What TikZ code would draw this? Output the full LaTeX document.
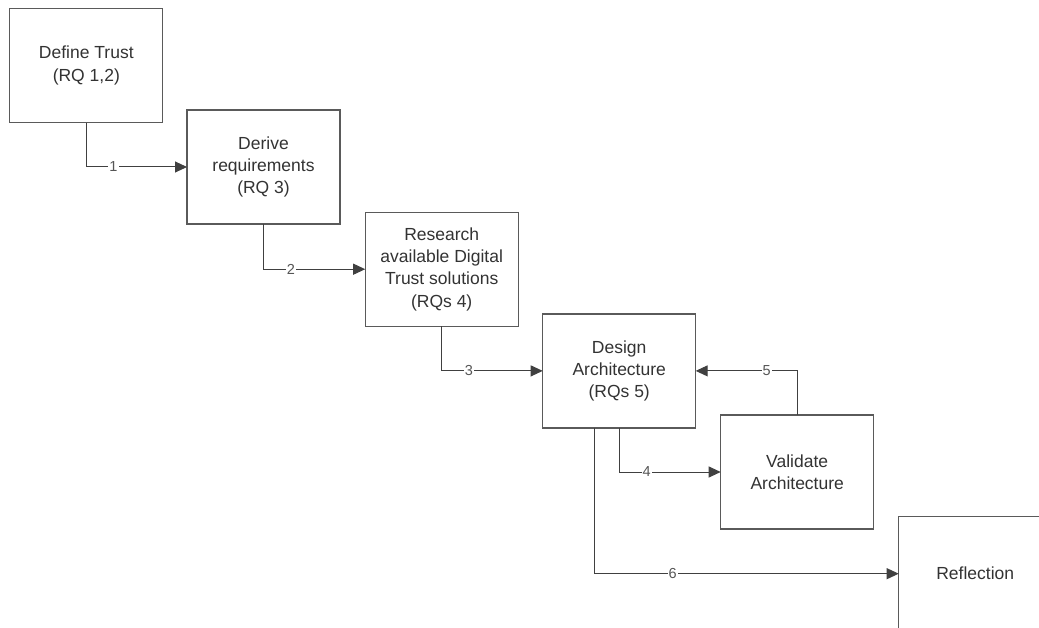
\documentclass[tikz,border=0pt]{standalone}
\usepackage{fontspec}
\setmainfont{Liberation Sans}
\usetikzlibrary{arrows.meta}
\definecolor{boxline}{HTML}{5A5A5A}
\definecolor{connline}{HTML}{404040}
\definecolor{txt}{HTML}{333333}
\definecolor{labtxt}{HTML}{555555}
\tikzset{
  stepbox/.style={draw=boxline, line width=1.3pt, fill=white, rectangle,
    minimum width=153pt, minimum height=114pt, inner sep=0pt, outer sep=0pt,
    align=center, text=txt, font=\fontsize{17.5}{22.3}\selectfont},
  conn/.style={draw=connline, line width=1pt,
    -{Triangle[length=12pt,width=11pt]}},
  lab/.style={fill=white, inner sep=1pt, text=labtxt,
    font=\fontsize{14.5}{14.5}\selectfont}
}
\begin{document}
\begin{tikzpicture}[x=1pt,y=-1pt]
  \useasboundingbox (0,0) rectangle (1039,628);
  \clip (0,0) rectangle (1039,628);
  % process steps
  \node[stepbox] (def) at (86.3,65.6)  {Define Trust\\(RQ 1,2)};
  \node[stepbox] (der) at (263.5,167)  {Derive\\requirements\\(RQ 3)};
  \node[stepbox] (res) at (441.7,269.2) {Research\\available Digital\\Trust solutions\\(RQs 4)};
  \node[stepbox] (des) at (619.2,370.9) {Design\\Architecture\\(RQs 5)};
  \node[stepbox] (val) at (797.2,472)  {Validate\\Architecture};
  \node[stepbox] (ref) at (975.2,573.7) {Reflection};
  % flow between steps
  \draw[conn] (def.south) |- node[lab, pos=0.635] {1} (der.west);
  \draw[conn] (der.south) |- node[lab, pos=0.635] {2} (res.west);
  \draw[conn] (res.south) |- node[lab, pos=0.635] {3} (des.west);
  \draw[conn] (des.south) |- node[lab, pos=0.635] {4} (val.west);
  \draw[conn] (val.north) |- node[lab, pos=0.65] {5} (des.east);
  \draw[conn] ([xshift=-25.2pt]des.south) |- node[lab, pos=0.629] {6} (ref.west);
\end{tikzpicture}
\end{document}
